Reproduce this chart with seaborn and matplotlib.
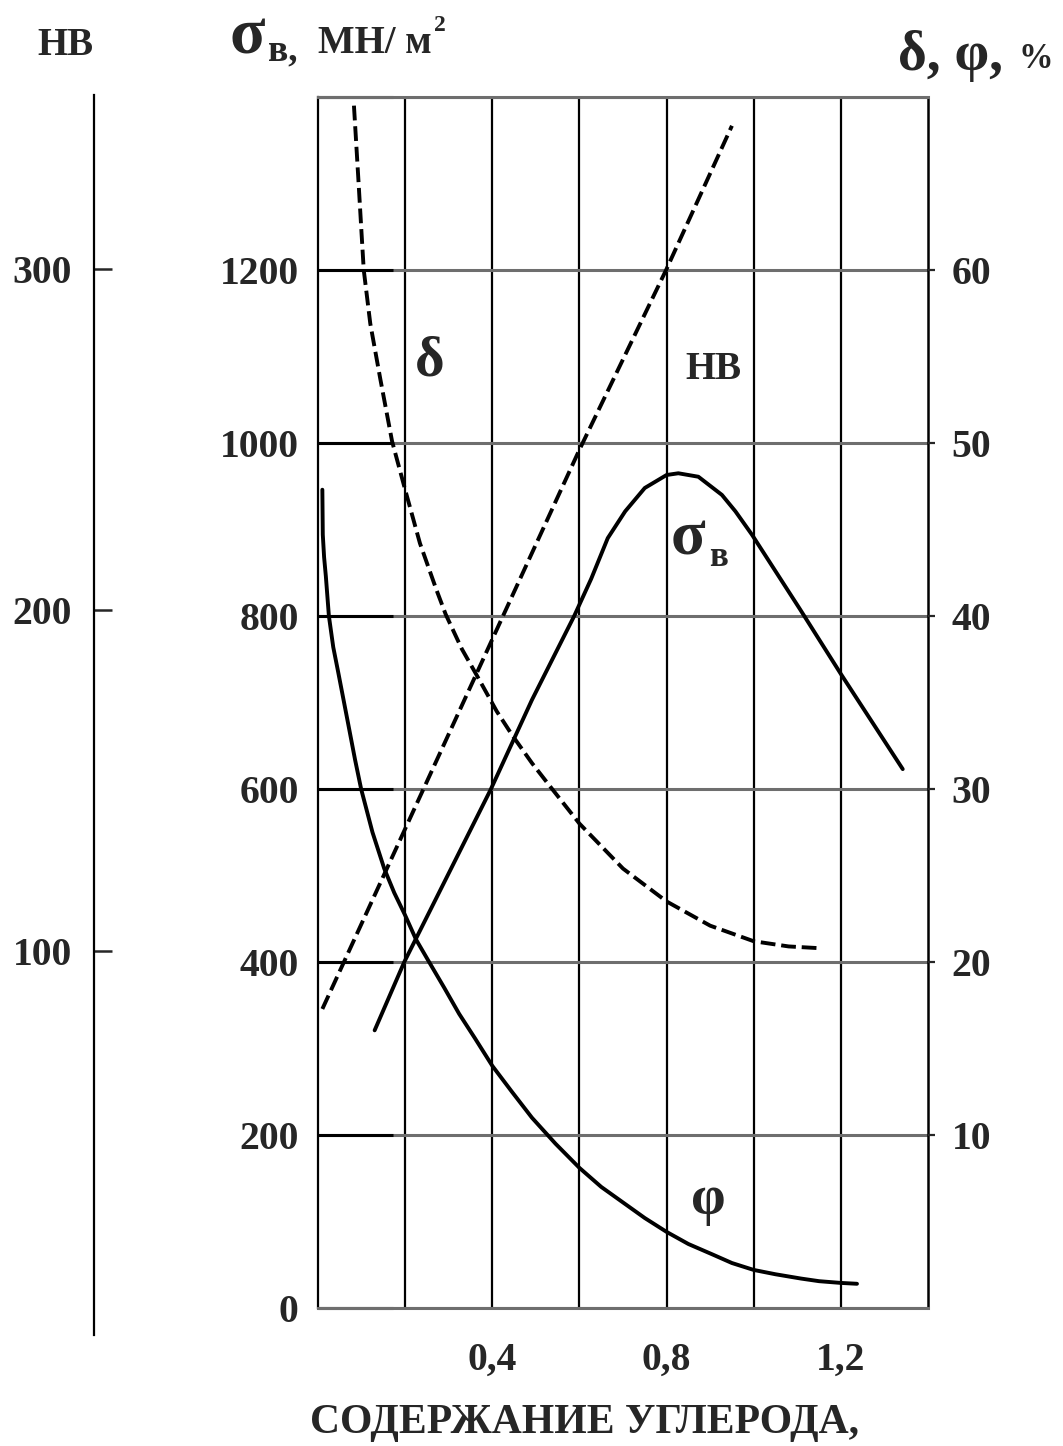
import matplotlib
matplotlib.use("Agg")
import matplotlib.pyplot as plt
import seaborn as sns
import numpy as np

# ---- style ----
sns.set_style("white")
plt.rcParams['font.family'] = ['Liberation Serif', 'DejaVu Serif']
plt.rcParams['font.weight'] = 'bold'

# ---- data ----
# carbon content, %
sigma_c = [0.13, 0.198, 0.396, 0.491, 0.588, 0.627, 0.665, 0.705, 0.75, 0.8, 0.827,
           0.873, 0.927, 0.958, 0.996, 1.106, 1.2, 1.342]
sigma_v = [321, 400, 599, 703, 800, 843, 890, 921, 948, 963, 965,
           961, 940, 921, 894, 808, 733, 623]   # MN/m2

delta_c = [0.0825, 0.093, 0.100, 0.105, 0.120, 0.143, 0.170, 0.2, 0.234, 0.272, 0.293,
           0.33, 0.366, 0.41, 0.446, 0.491, 0.528, 0.6, 0.7, 0.8, 0.9, 1.0, 1.08, 1.15]
delta_v = [69.5, 65.1, 62.1, 60.0, 56.9, 53.7, 50.1, 47.3, 44.2, 41.5, 40.1,
           38.1, 36.5, 34.5, 33.1, 31.5, 30.3, 28.0, 25.4, 23.5, 22.1, 21.2, 20.9, 20.8]   # %

phi_c = [0.010, 0.011, 0.014, 0.018, 0.025, 0.035, 0.046, 0.069, 0.085, 0.099, 0.125,
         0.152, 0.175, 0.2, 0.225, 0.255, 0.29, 0.324, 0.36, 0.4, 0.445, 0.491, 0.545,
         0.6, 0.65, 0.7, 0.75, 0.8, 0.85, 0.905, 0.95, 1.0, 1.05, 1.109, 1.15, 1.2, 1.237]
phi_v = [47.3, 44.7, 43.4, 42.3, 40.0, 38.2, 36.8, 33.8, 31.7, 30.0, 27.5,
         25.4, 24.0, 22.7, 21.3, 20.0, 18.5, 17.0, 15.6, 14.0, 12.5, 11.0, 9.5,
         8.1, 7.0, 6.1, 5.2, 4.4, 3.7, 3.1, 2.6, 2.2, 1.95, 1.7, 1.55, 1.45, 1.4]   # %

hb_c = [0.01, 0.6, 0.8, 0.95]
hb_v = [83, 247, 300, 342]

x_ticks = [0.4, 0.8, 1.2]
x_labels = ['0,4', '0,8', '1,2']
x_grid = [0.2, 0.6, 1.0]
sigma_ticks = [0, 200, 400, 600, 800, 1000, 1200, 1400]
sigma_labels = ['0', '200', '400', '600', '800', '1000', '1200', '']
pct_ticks = [10, 20, 30, 40, 50, 60]
hb_ticks = [100, 200, 300]

W, H = 1063, 1446
fig = plt.figure(figsize=(W / 100, H / 100), dpi=100)
L, R, T, B = 318, 928, 97, 1308
ax = fig.add_axes([L / W, 1 - B / H, (R - L) / W, (B - T) / H])

ax.set_xlim(0, 1.4)
ax.set_ylim(0, 1400)

# grid
ax.set_xticks(x_ticks)
ax.set_xticklabels(x_labels)
ax.set_xticks(x_grid, minor=True)
ax.set_yticks(sigma_ticks)
ax.set_yticklabels(sigma_labels)
ax.grid(True, axis='x', which='both', color='black', lw=1.6)
ax.grid(True, axis='y', which='major', color='#6e6e6e', lw=2.2)
ax.tick_params(axis='x', which='both', length=0, pad=24, labelsize=28.5)
ax.tick_params(axis='y', direction='in', length=54, width=2.2, color='black',
               pad=14, labelsize=28.5)
ax.spines['left'].set_color('black')
ax.spines['left'].set_linewidth(1.6)
ax.spines['right'].set_color('black')
ax.spines['right'].set_linewidth(1.8)
for s in ['top', 'bottom']:
    ax.spines[s].set_color('#6e6e6e')
    ax.spines[s].set_linewidth(2.2)

dash = (0, (3.8, 1.5))

# sigma curve
sns.lineplot(x=sigma_c, y=sigma_v, ax=ax, color='black', lw=2.8, estimator=None, sort=False)

# percent axis (delta, phi)
axp = ax.twinx()
axp.set_ylim(0, 70)
axp.set_yticks(pct_ticks)
axp.tick_params(axis='y', direction='out', length=5, width=1.6, pad=12, labelsize=28.5)
for s in ['top', 'bottom', 'left', 'right']:
    axp.spines[s].set_visible(False)
sns.lineplot(x=delta_c, y=delta_v, ax=axp, color='black', lw=2.8, estimator=None,
             sort=False, linestyle=dash)
sns.lineplot(x=phi_c, y=phi_v, ax=axp, color='black', lw=2.8, estimator=None, sort=False)
axp.set_xlim(0, 1.4)

# HB axis (far left)
axh = ax.twinx()
hb_lo = 200 - (B - 610) / 3.41
hb_hi = 200 + (610 - T) / 3.41
axh.set_ylim(hb_lo, hb_hi)
axh.set_xlim(0, 1.4)
axh.yaxis.set_ticks_position('left')
axh.yaxis.set_label_position('left')
for s in ['top', 'bottom', 'right']:
    axh.spines[s].set_visible(False)
axh.spines['left'].set_position(('axes', (94 - L) / (R - L)))
axh.spines['left'].set_bounds(200 - (1335 - 610) / 3.41, 200 + (610 - 95) / 3.41)
axh.spines['left'].set_linewidth(1.6)
axh.spines['left'].set_color('black')
axh.set_yticks(hb_ticks)
axh.tick_params(axis='y', direction='in', length=13, width=1.8, pad=16, labelsize=28.5)
sns.lineplot(x=hb_c, y=hb_v, ax=axh, color='black', lw=2.8, estimator=None, sort=False,
             linestyle=dash)

for a in (ax, axp, axh):
    a.set_xlabel('')
    a.set_ylabel('')

# curve labels
ax.text(0.257, 1094, 'δ', fontsize=41, ha='center', va='center')
ax.text(0.908, 1085, 'HB', fontsize=28, ha='center', va='center')
ax.text(0.849, 888, 'σ', fontsize=46, ha='center', va='center')
ax.text(0.92, 868, 'в', fontsize=25, ha='center', va='center')
ax.text(0.895, 125, 'φ', fontsize=40, ha='center', va='center')

# axis titles
def ft(x, y, s, size, ha='left'):
    fig.text(x / W, 1 - y / H, s, fontsize=size, ha=ha, va='baseline')

ft(65, 55, 'HB', 28, ha='center')
ft(229, 53, 'σ', 47)
ft(268, 60, 'в,', 27)
ft(318, 53, 'МН/ м', 28)
ft(434, 31, '2', 17)
ft(898, 70, 'δ, φ,', 40)
ft(1018, 68, '%', 25)
ft(585, 1433, 'СОДЕРЖАНИЕ УГЛЕРОДА,', 30, ha='center')

fig.savefig('out.png', dpi=100)
